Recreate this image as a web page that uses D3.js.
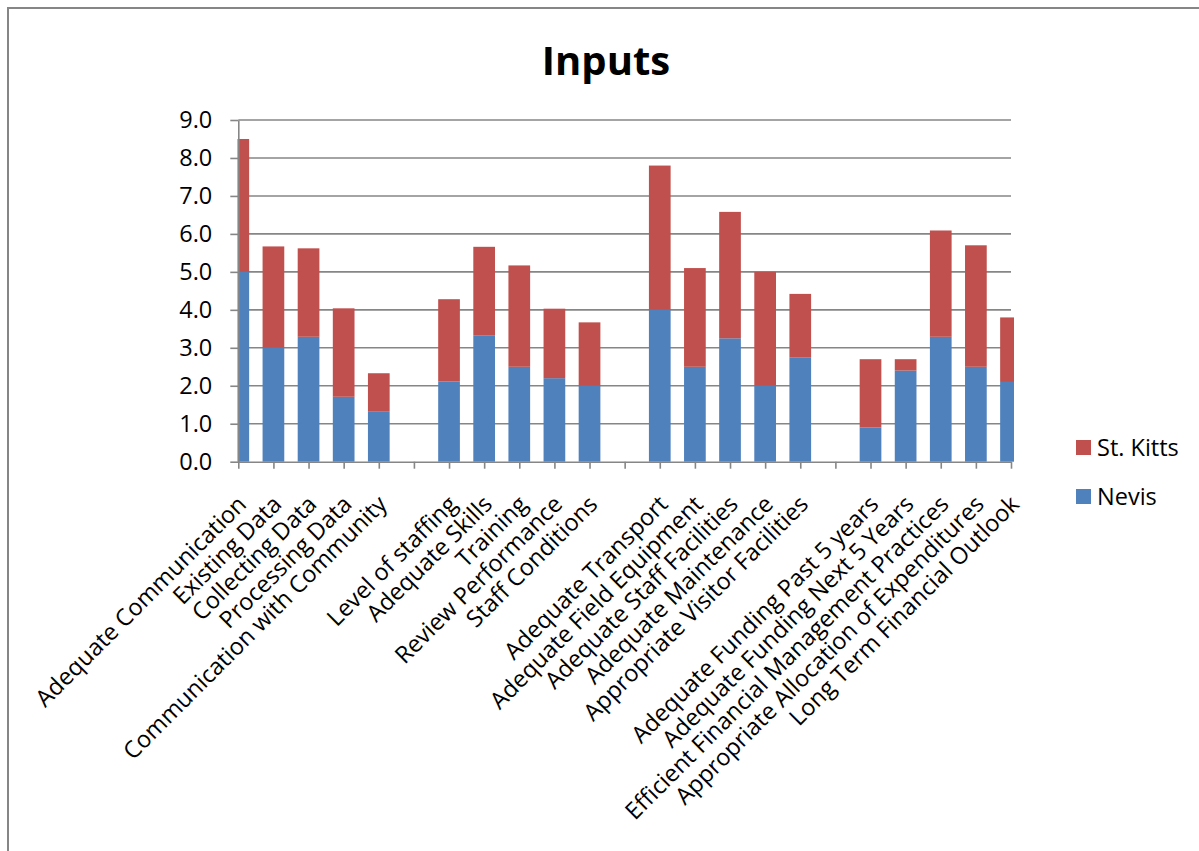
<!DOCTYPE html>
<html>
<head>
<meta charset="utf-8">
<script src="https://cdn.jsdelivr.net/npm/d3@7"></script>
<style>
  html, body { margin: 0; padding: 0; background: #fff; }
  svg { display: block; }
  text { font-family: "Open Sans", "Noto Sans", sans-serif; fill: #000; }
</style>
</head>
<body>
<svg id="chart" width="1199" height="851"></svg>
<script>
const categories = [
  "Adequate Communication", "Existing Data", "Collecting Data", "Processing Data",
  "Communication with Community", "",
  "Level of staffing", "Adequate Skills", "Training", "Review Performance", "Staff Conditions", "",
  "Adequate Transport", "Adequate Field Equipment", "Adequate Staff Facilities",
  "Adequate Maintenance", "Appropriate Visitor Facilities", "",
  "Adequate Funding Past 5 years", "Adequate Funding Next 5 Years",
  "Efficient Financial Management Practices", "Appropriate Allocation of Expenditures",
  "Long Term Financial Outlook"
];
const nevis = [5.0, 3.0, 3.29, 1.71, 1.33, null, 2.11, 3.33, 2.5, 2.2, 2.0, null,
               4.0, 2.5, 3.25, 2.0, 2.75, null, 0.9, 2.4, 3.29, 2.5, 2.1];
const stKitts = [3.5, 2.67, 2.33, 2.33, 1.0, null, 2.17, 2.33, 2.67, 1.83, 1.67, null,
                 3.8, 2.6, 3.33, 3.0, 1.67, null, 1.8, 0.3, 2.8, 3.2, 1.7];
const seriesNames = ["Nevis", "St. Kitts"];
const yTicks = [0, 1, 2, 3, 4, 5, 6, 7, 8, 9];
const title = "Inputs";

const colors = { "Nevis": "#4F81BD", "St. Kitts": "#C0504D" };
const gridColor = "#868686";
const fs = 23.5;

const svg = d3.select("#chart");

// chart frame
svg.append("path")
  .attr("d", "M8,851 L8,8 L1199,8")
  .attr("fill", "none")
  .attr("stroke", gridColor)
  .attr("stroke-width", 2);

const x0 = 238.3, x1 = 1011, yTop = 120, yBot = 461.7;

const x = d3.scalePoint()
  .domain(d3.range(categories.length))
  .range([x0, x1]);
const y = d3.scaleLinear().domain([0, 9]).range([yBot, yTop]);

// title
svg.append("text")
  .attr("x", 606).attr("y", 75)
  .attr("text-anchor", "middle")
  .attr("font-size", 40).attr("font-weight", "bold")
  .text(title);

// gridlines
svg.append("g").selectAll("line")
  .data(yTicks.filter(d => d > 0))
  .join("line")
  .attr("x1", x0).attr("x2", x1)
  .attr("y1", d => y(d)).attr("y2", d => y(d))
  .attr("stroke", gridColor).attr("stroke-width", 1.6);

// stacked data
const rows = categories.map((c, i) => ({ i, "Nevis": nevis[i] || 0, "St. Kitts": stKitts[i] || 0 }));
const stack = d3.stack().keys(seriesNames)(rows);

svg.append("defs").append("clipPath").attr("id", "plotclip")
  .append("rect").attr("x", 237.5).attr("y", 0).attr("width", 1014 - 237.5).attr("height", 851);

const barW = 21.7;
svg.append("g").attr("clip-path", "url(#plotclip)")
  .selectAll("g").data(stack).join("g")
  .attr("fill", d => colors[d.key])
  .selectAll("rect").data(d => d.filter(s => s[1] - s[0] > 0)).join("rect")
  .attr("x", d => x(d.data.i) - barW / 2)
  .attr("width", barW)
  .attr("y", d => y(d[1]))
  .attr("height", d => y(d[0]) - y(d[1]));

// y axis
const yAxis = svg.append("g")
  .attr("transform", `translate(${x0},0)`)
  .call(d3.axisLeft(y).tickValues(yTicks).tickFormat(d3.format(".1f")).tickSize(8).tickSizeOuter(0).tickPadding(18));
yAxis.select(".domain").attr("stroke", gridColor).attr("stroke-width", 1.6);
yAxis.selectAll(".tick line").attr("stroke", gridColor).attr("stroke-width", 1.6);
yAxis.selectAll(".tick text").attr("font-size", fs).attr("font-family", "Open Sans").attr("fill", "#000");

// x axis
const xAxis = svg.append("g")
  .attr("transform", `translate(0,${yBot})`)
  .call(d3.axisBottom(x).tickFormat(i => categories[i]).tickSize(7).tickSizeOuter(0));
xAxis.select(".domain").attr("stroke", gridColor).attr("stroke-width", 1.6);
xAxis.selectAll(".tick line").attr("stroke", gridColor).attr("stroke-width", 1.6);
xAxis.selectAll(".tick text")
  .attr("font-size", fs).attr("font-family", "Open Sans").attr("fill", "#000")
  .attr("text-anchor", "end")
  .attr("y", 0).attr("dy", 0)
  .attr("transform", "translate(9,44) rotate(-45)");

// legend
const legendItems = ["St. Kitts", "Nevis"];
const lg = svg.append("g").selectAll("g").data(legendItems).join("g")
  .attr("transform", (d, i) => `translate(1076,${440 + i * 49})`);
lg.append("rect").attr("width", 15).attr("height", 15).attr("fill", d => colors[d]);
lg.append("text").attr("x", 21).attr("y", 16).attr("font-size", fs).text(d => d);
</script>
</body>
</html>
